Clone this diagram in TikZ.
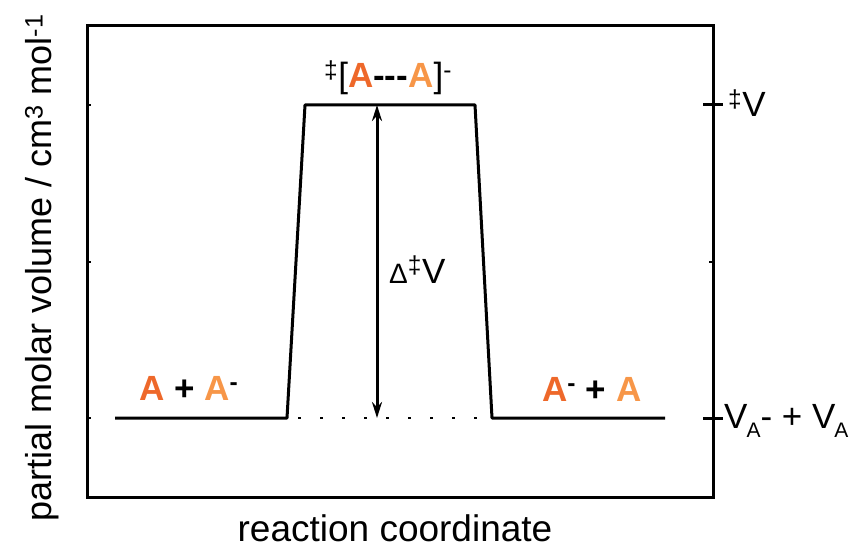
\documentclass[tikz,border=0pt]{standalone}
\usepackage{fontspec}
\setmainfont{Liberation Sans}
\usetikzlibrary{arrows.meta}
\definecolor{laranjaA}{RGB}{238,104,42}
\definecolor{laranjaB}{RGB}{247,150,72}
\newcommand{\indice}[1]{\raisebox{-9pt}{\fontsize{21}{24}\selectfont #1}}

\begin{document}
\begin{tikzpicture}[
        x=1pt, y=-1pt,
        >={Stealth[length=16pt,width=10pt]},
        every node/.style={font=\fontsize{35}{42}\selectfont, inner sep=0pt},
        linha/.style={line width=3pt, line join=round},
        eixo/.style={line width=3pt},
        rotulo/.style={anchor=base west}
    ]
        \useasboundingbox (0,0) rectangle (853,548);

        % ==================================================
        % EIXOS
        % ==================================================

        \draw[eixo] (87,26) rectangle (713,497);

        % marcas do eixo esquerdo
        \foreach \y in {105,262,418}
            \draw[line width=1.2pt] (87,\y) -- ++(4,0);

        % marcas do eixo direito
        \draw[line width=1.2pt] (713,262) -- ++(-4,0);
        \coordinate (mV) at (713,105);
        \coordinate (mA) at (713,418);
        \draw[eixo] (mV) ++(-10,0) -- ++(20,0);
        \draw[eixo] (mA) ++(-10,0) -- ++(20,0);

        \node[rotulo] (lV) at (728,117) {\textsuperscript{‡}V};
        \node[rotulo] (lA) at (724,428) {V\kern-1pt\indice{A}- + V\kern-1pt\indice{A}};

        \node[font=\fontsize{37}{44}\selectfont] (xlab) at (395,528) {reaction coordinate};
        \node[rotate=90, font=\fontsize{36}{43}\selectfont] (ylab) at (42,268) {partial molar volume / cm\textsuperscript{3} mol\textsuperscript{-1}};

        % ==================================================
        % PERFIL
        % ==================================================

        \coordinate (l0) at (115,418);
        \coordinate (l1) at (287,418);
        \coordinate (t1) at (305,105);
        \coordinate (t2) at (475,105);
        \coordinate (r1) at (492,418);
        \coordinate (r2) at (665,418);

        \draw[linha] (l0) -- (l1) -- (t1) -- (t2) -- (r1) -- (r2);
        \draw[line width=2.5pt, dash pattern=on 2.5pt off 19.5pt] (l1) ++(11,0) -- (r1);

        % Seta
        \coordinate (s1) at (377,105);
        \coordinate (s2) at (377,418);
        \draw[<->, line width=3pt] (s1) -- (s2);
        \node[rotulo] (dV) at (389,283) {{\fontsize{28}{32}\selectfont Δ}\textsuperscript{‡}V};

        % Especies
        \node[rotulo] (reag) at (139,400) {\textbf{\textcolor{laranjaA}{A} + \textcolor{laranjaB}{A}\textsuperscript{-}}};
        \node[rotulo] (prod) at (542,401) {\textbf{\textcolor{laranjaA}{A}\textsuperscript{-} + \textcolor{laranjaB}{A}}};
        \node[rotulo] (ts) at (324,88) {\textsuperscript{‡}[\textbf{\textcolor{laranjaA}{A}-{}-{}-\textcolor{laranjaB}{A}}]\textsuperscript{-}};
    \end{tikzpicture}
\end{document}
